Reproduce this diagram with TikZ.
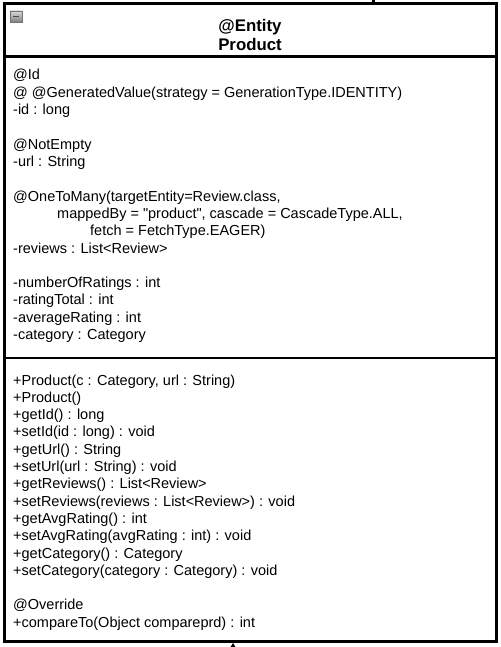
\documentclass[tikz,border=0pt]{standalone}
\usepackage{fontspec}
\setmainfont{Liberation Sans}
\usetikzlibrary{arrows.meta}
\begin{document}
\begin{tikzpicture}[x=1pt, y=-1pt,
  cls/.style={draw=black, line width=3pt, minimum width=492pt, minimum height=637.3pt, inner sep=0pt},
  hd/.style={font=\fontsize{16.8}{19}\selectfont\bfseries, anchor=base, inner sep=0pt},
  ln/.style={font=\fontsize{14.5}{17}\selectfont, anchor=base west, inner sep=0pt},
  bar/.style={line width=3pt},
  assoc/.style={line width=1.4pt, -{Latex[length=4pt,width=5pt]}},
]
  \useasboundingbox (0,0) rectangle (500,647);
  % class box: x from 4 to 496, y from 4 to 641
  \node[cls] (product) at (250,322.65) {};
  \draw[bar] (4,57) -- (496,57);
  \draw[line width=2.4pt] (4,358) -- (496,358);

  % collapse icon
  \draw[draw=black!55, top color=black!15, bottom color=black!50] (10,11) rectangle (22,22);
  \draw[line width=1.4pt, black!70] (13,16.5) -- (19,16.5);

  \node[hd] (stereo) at (250,31.5) {@Entity};
  \node[hd] (name) at (250,50.7) {Product};

  % attributes, one row every 17.3
  \node[ln] (f1) at (13,80.0) {@Id};
  \node[ln] (f2) at (13,97.3) {@ @GeneratedValue(strategy = GenerationType.IDENTITY)};
  \node[ln] (f3) at (13,114.6) {-id : long};
  \node[ln] (f4) at (13,149.2) {@NotEmpty};
  \node[ln] (f5) at (13,166.5) {-url : String};
  \node[ln] (f6) at (13,201.1) {@OneToMany(targetEntity=Review.class,};
  \node[ln] (f7) at (57,218.4) {mappedBy = \textquotedbl product\textquotedbl, cascade = CascadeType.ALL,};
  \node[ln] (f8) at (90,235.7) {fetch = FetchType.EAGER)};
  \node[ln] (f9) at (13,253.0) {-reviews : List<Review>};
  \node[ln] (f10) at (13,287.6) {-numberOfRatings : int};
  \node[ln] (f11) at (13,304.9) {-ratingTotal : int};
  \node[ln] (f12) at (13,322.2) {-averageRating : int};
  \node[ln] (f13) at (13,339.5) {-category : Category};

  % operations
  \node[ln] (m1) at (13,385.0) {+Product(c : Category, url : String)};
  \node[ln] (m2) at (13,402.3) {+Product()};
  \node[ln] (m3) at (13,419.6) {+getId() : long};
  \node[ln] (m4) at (13,436.9) {+setId(id : long) : void};
  \node[ln] (m5) at (13,454.2) {+getUrl() : String};
  \node[ln] (m6) at (13,471.5) {+setUrl(url : String) : void};
  \node[ln] (m7) at (13,488.8) {+getReviews() : List<Review>};
  \node[ln] (m8) at (13,506.1) {+setReviews(reviews : List<Review>) : void};
  \node[ln] (m9) at (13,523.4) {+getAvgRating() : int};
  \node[ln] (m10) at (13,540.7) {+setAvgRating(avgRating : int) : void};
  \node[ln] (m11) at (13,558.0) {+getCategory() : Category};
  \node[ln] (m12) at (13,575.3) {+setCategory(category : Category) : void};
  \node[ln] (m13) at (13,609.9) {@Override};
  \node[ln] (m14) at (13,627.2) {+compareTo(Object compareprd) : int};

  % links leaving the box
  \coordinate (up) at (373,0);
  \coordinate (down) at (233,647);
  \draw[bar] (up) -- (up |- product.north);
  \draw[assoc] (down) -- (down |- product.south);
\end{tikzpicture}
\end{document}
